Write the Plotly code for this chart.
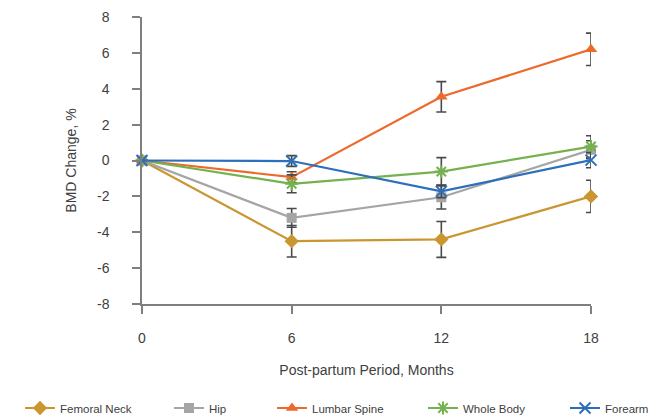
import plotly.graph_objects as go

months = [0, 6, 12, 18]
x_ticks = [0, 6, 12, 18]
y_ticks = [-8, -6, -4, -2, 0, 2, 4, 6, 8]
y_tick_labels = ["-8", "-6", "-4", "-2", "0", "2", "4", "6", "8"]

series_names = ["Femoral Neck", "Hip", "Lumbar Spine", "Whole Body", "Forearm"]
femoral_neck = [0, -4.5, -4.4, -2.0]
femoral_neck_err = [0, 0.88, 1.0, 0.9]
hip = [0, -3.2, -2.05, 0.6]
hip_err = [0, 0.52, 0.65, 0.5]
lumbar_spine = [0, -0.93, 3.55, 6.2]
lumbar_spine_err = [0, 0.3, 0.85, 0.9]
whole_body = [0, -1.3, -0.62, 0.78]
whole_body_err = [0, 0.5, 0.78, 0.6]
forearm = [0, -0.03, -1.72, 0.02]
forearm_err = [0, 0.3, 0.35, 0.42]

values = [femoral_neck, hip, lumbar_spine, whole_body, forearm]
errors = [femoral_neck_err, hip_err, lumbar_spine_err, whole_body_err, forearm_err]
colors = ["#C9962F", "#A5A5A5", "#EC6A2B", "#74B14F", "#2D6FBA"]
symbols = ["diamond", "square", "triangle-up", "asterisk-open", "x-thin-open"]
sizes = [11, 10, 11, 11, 11]
legend_px = [12, 161, 264, 415, 557]

# page body has an 8px margin, so the figure is offset by 8px
W, H = 649, 409
L, R, T = 134, 66, 9
B = H - 296
pw = W - L - R
ph = H - T - B

fig = go.Figure()
for i, name in enumerate(series_names):
    lg = "legend" if i == 0 else f"legend{i+1}"
    marker = dict(symbol=symbols[i], size=sizes[i], color=colors[i])
    if symbols[i].endswith("open"):
        marker["line"] = dict(color=colors[i], width=2)
    fig.add_trace(go.Scatter(
        x=months, y=values[i], name=name, mode="lines+markers",
        line=dict(color=colors[i], width=2.2),
        marker=marker,
        error_y=dict(type="data", array=errors[i], visible=True,
                     color="#4a4a4a", thickness=1.6, width=5),
        legend=lg,
        cliponaxis=False,
    ))

font = dict(family="Liberation Sans, Arial, sans-serif", size=14, color="#404040")
layout_legends = {}
for i in range(5):
    key = "legend" if i == 0 else f"legend{i+1}"
    layout_legends[key] = dict(
        orientation="h", yanchor="middle", xanchor="left",
        x=(legend_px[i] - L) / pw, y=(296 - 400) / ph,
        font=dict(family="Liberation Sans, Arial, sans-serif", size=11.5, color="#404040"),
        bgcolor="rgba(0,0,0,0)", borderwidth=0)

fig.update_layout(
    width=W, height=H,
    margin=dict(l=L, r=R, t=T, b=B, autoexpand=False),
    paper_bgcolor="white", plot_bgcolor="white",
    font=font,
    showlegend=True,
    xaxis=dict(range=[0, 18], tickvals=x_ticks, ticktext=[str(v) for v in x_ticks],
               showgrid=False, zeroline=False, showline=True, linecolor="#7f7f7f", linewidth=1.5,
               ticks="outside", ticklen=8, tickcolor="#7f7f7f", tickwidth=1.5,
               ticklabelstandoff=12,
               title=dict(text="Post-partum Period, Months", standoff=21, font=font)),
    yaxis=dict(range=[-8, 8], tickvals=y_ticks, ticktext=y_tick_labels,
               showgrid=False, zeroline=False, showline=True, linecolor="#7f7f7f", linewidth=1.5,
               ticks="outside", ticklen=8, tickcolor="#7f7f7f", tickwidth=1.5,
               ticklabelstandoff=20,
               title=dict(text="BMD Change, %", standoff=17, font=font)),
    **layout_legends,
)
fig.write_html("out.html")
